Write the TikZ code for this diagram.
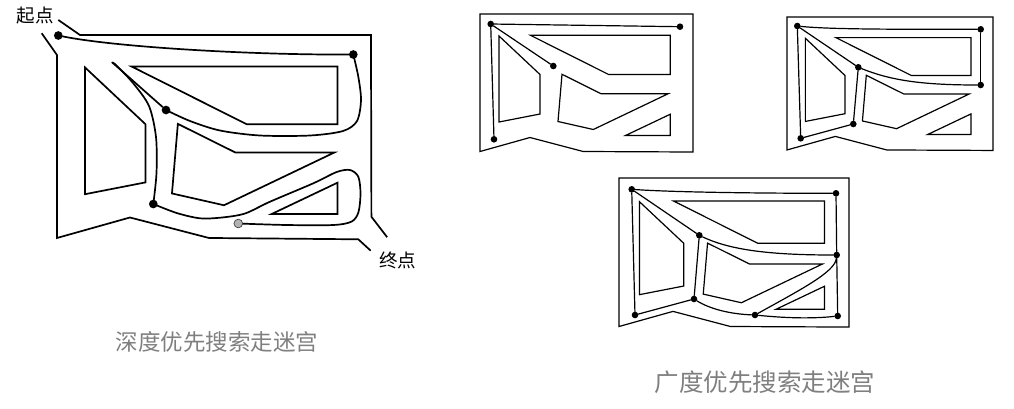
\documentclass[tikz,border=0pt]{standalone}
\usepackage{fontspec}
\setmainfont{Noto Sans CJK SC}
\usepackage{tikz}
\usetikzlibrary{backgrounds}
\definecolor{captiongray}{HTML}{7F7F7F}
\newcommand{\mazeislands}{%
  \draw (19,22) -- (60,60.5) -- (60,100) -- (19,108) -- cycle;
  \draw (50.5,21.3) -- (190.3,21.3) -- (190.3,60.5) -- (128.6,60.5) -- cycle;
  \draw (82,60.3) -- (121,79.7) -- (188.2,79.7) -- (113.3,115.5) -- (78,107.5) -- cycle;
  \draw (190.3,100.2) -- (190.3,121.5) -- (145.5,121.5) -- cycle;
}
\newcommand{\mazeclosed}{%
  \mazeislands
  \draw (0,0) -- (213,0) -- (213,138) -- (103.2,137.5) -- (50,123.5) -- (0,137.5) -- cycle;
}

\begin{document}
\begin{tikzpicture}[x=1pt,y=-1pt,
  wall/.style={line width=1.7pt,line join=miter},
  thinwall/.style={line width=1.2pt,line join=miter},
  route/.style={line width=1.7pt,line cap=round,line join=round},
  thinroute/.style={line width=1.2pt,line cap=round},
  bigdot/.style={circle,fill=black,inner sep=0pt,minimum size=8.7pt},
  enddot/.style={circle,draw=black!75,fill=black!30,line width=0.7pt,inner sep=0pt,minimum size=8.7pt},
  jdot/.style={circle,fill=black,inner sep=0pt,minimum size=6.6pt},
  tag/.style={font=\fontsize{18.5}{18.5}\selectfont},
  caption/.style={text=captiongray,font=\fontsize{22.5}{22.5}\selectfont}]
  \useasboundingbox (0,0) rectangle (1014,408);

  % depth-first maze
  \begin{scope}[shift={(57,35)},scale=1.474,wall]
    \mazeislands
    \draw (0.9,-10.2) -- (15.6,0) -- (213,0) -- (213.3,123.3) -- (224,137.2);
    \draw (-10.4,-1.2) -- (0,13.6) -- (0,137.7) -- (49.5,123.8) -- (103.1,137.7) -- (204.4,138.6) -- (212.8,146.3);
  \end{scope}
  \node[bigdot] (s) at (58.3,35.5) {};
  \node[bigdot] (p1) at (353.3,54.5) {};
  \node[bigdot] (p2) at (166,110) {};
  \node[bigdot] (p3) at (153.3,204) {};
  \node[enddot] (g) at (238.3,223.5) {};
  \coordinate (tip) at (112.3,62.5);
  \begin{scope}[on background layer]
    \draw[route] (s) .. controls (115,47) and (250,55) .. (p1);
    \draw[route] plot[smooth] coordinates {(p1) (358.3,76.7) (361,100) (357,121) (343,131) (310,135.5) (260,135.5) (220,130.5) (190,121) (p2)};
    \draw[route] (p2) -- (tip);
    \draw[route] plot[smooth] coordinates {(tip) (116.5,65.5) (133,83) (149,106) (156,137) (156.5,173) (p3)};
    \draw[route] plot[smooth] coordinates {(p3) (176.7,213) (200,218.3) (222,217.5) (245,213.5) (270,201.7) (313.3,183.3) (336.7,172) (350,170) (358.3,176.7) (360.5,193.3) (358.5,212) (351.7,221.5) (333.3,225) (286.7,225) (g)};
  \end{scope}
  \node[tag] (start) at (35.3,15.8) {起点};
  \node[tag] (finish) at (397.5,260) {终点};
  \node[caption] (dfscap) at (217,342) {深度优先搜索走迷宫};

  % breadth-first maze, three steps
  \begin{scope}[shift={(480,14)},thinwall]
    \mazeclosed
  \end{scope}
  \node[jdot] (a1) at (490.7,24) {};
  \node[jdot] (b1) at (680,26.7) {};
  \node[jdot] (c1) at (553.3,66) {};
  \node[jdot] (e1) at (494,139.3) {};
  \draw[thinroute] (a1) -- (b1);
  \draw[thinroute] (a1) -- (c1);
  \draw[thinroute] (a1) -- (e1);

  \begin{scope}[shift={(787,17)},scale=0.967,thinwall]
    \mazeclosed
  \end{scope}
  \node[jdot] (a2) at (797.3,26) {};
  \node[jdot] (b2) at (980.7,29.3) {};
  \node[jdot] (c2) at (858.3,67.3) {};
  \node[jdot] (d2) at (853.3,124) {};
  \node[jdot] (e2) at (800.7,138.3) {};
  \node[jdot] (f2) at (980.7,85) {};
  \draw[thinroute] (a2) .. controls (830,29.5) and (900,29.3) .. (b2);
  \draw[thinroute] (a2) -- (c2);
  \draw[thinroute] (a2) -- (e2);
  \draw[thinroute] (c2) -- (d2);
  \draw[thinroute] (d2) -- (e2);
  \draw[thinroute] (c2) .. controls (890,80) and (920,85) .. (f2);
  \draw[thinroute] (b2) -- (f2);

  \begin{scope}[shift={(619,178)},scale=1.08,thinwall]
    \mazeclosed
  \end{scope}
  \node[jdot] (a3) at (631.7,189.3) {};
  \node[jdot] (b3) at (836,193.3) {};
  \node[jdot] (c3) at (699.3,235.3) {};
  \node[jdot] (d3) at (694,299) {};
  \node[jdot] (e3) at (635,315) {};
  \node[jdot] (f3) at (836.7,255) {};
  \node[jdot] (g3) at (755,315) {};
  \node[jdot] (h3) at (837.7,316) {};
  \draw[thinroute] (a3) .. controls (670,192) and (750,193.3) .. (b3);
  \draw[thinroute] (a3) -- (c3);
  \draw[thinroute] (a3) -- (e3);
  \draw[thinroute] (c3) -- (d3);
  \draw[thinroute] (d3) -- (e3);
  \draw[thinroute] (c3) .. controls (730,250) and (770,255) .. (f3);
  \draw[thinroute] (b3) -- (f3);
  \draw[thinroute] (f3) .. controls (835,272) and (800,290) .. (g3);
  \draw[thinroute] (f3) -- (h3);
  \draw[thinroute] (d3) .. controls (710,309) and (730,314) .. (g3);
  \draw[thinroute] (g3) .. controls (790,318.5) and (815,318.5) .. (h3);
  \node[caption,font=\fontsize{24.5}{24.5}\selectfont] (bfscap) at (765,382.5) {广度优先搜索走迷宫};
\end{tikzpicture}
\end{document}
